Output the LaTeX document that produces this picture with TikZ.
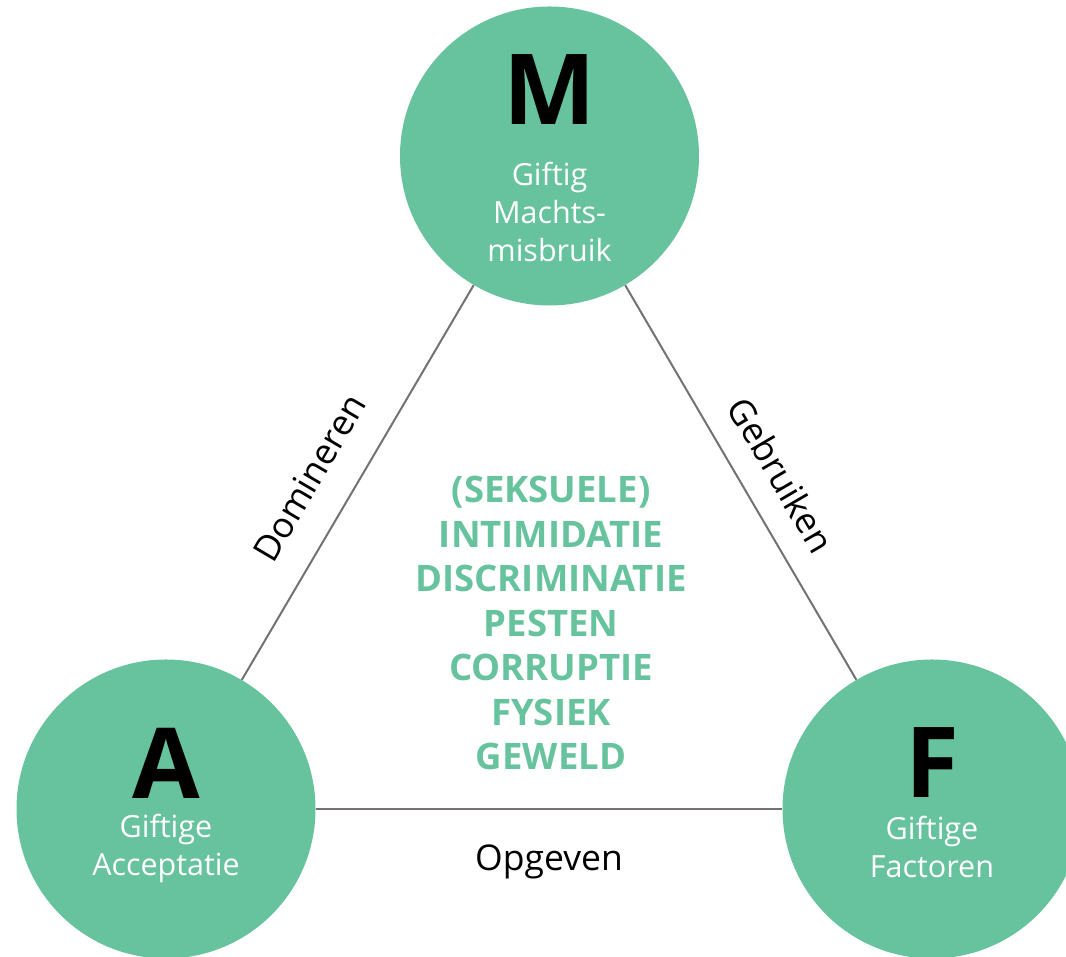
\documentclass[tikz,border=0pt]{standalone}
\usepackage{fontspec}
\setmainfont{Open Sans}
\usetikzlibrary{positioning}
\definecolor{toxgreen}{RGB}{102,195,157}
\definecolor{edgegray}{RGB}{118,113,113}

\begin{document}
\begin{tikzpicture}[
x=1pt, y=1pt,
link/.style={draw=edgegray, line width=2pt}
]

\tikzstyle{c} = [circle, fill=toxgreen, minimum size=299pt, inner sep=0pt]
\tikzstyle{big} = [font=\fontsize{98}{98}\selectfont\bfseries, inner sep=0pt]
\tikzstyle{sub} = [text=white, align=center, font=\fontsize{30.5}{38}\selectfont, inner sep=0pt]
\tikzstyle{lbl} = [font=\fontsize{35.5}{40}\selectfont, inner sep=0pt]
\tikzstyle{risk} = [text=toxgreen, align=center, font=\fontsize{36.5}{44.5}\selectfont\bfseries, inner sep=0pt]

\useasboundingbox (0,0) rectangle (1066,957);
\clip (0,0) rectangle (1066,957);

\node[c] (M) at (549.5,801) {};
\node[c] (A) at (166,148) {};
\node[c] (F) at (932,148) {};

% letters
\node[big] (lM) at ([yshift=66pt]M.center) {M};
\node[big] (lA) at ([yshift=46pt]A.center) {A};
\node[big] (lF) at ([yshift=46pt]F.center) {F};

% sub texts
\node[sub] (tM) at ([yshift=-56pt]M.center) {Giftig\\Machts-\\misbruik};
\node[sub] (tA) at ([yshift=-40pt]A.center) {Giftige\\Acceptatie};
\node[sub] (tF) at ([yshift=-38pt]F.center) {Giftige\\Factoren};

% sides
\draw[link] (A) -- node[lbl, sloped, pos=0.455, above=30pt] (dom) {Domineren} (M);
\draw[link] (M) -- node[lbl, sloped, pos=0.53, above=24pt] (geb) {Gebruiken} (F);
\draw[link] (A) -- node[lbl, below=35pt] (opg) {Opgeven} (F);

\node[risk] (risks) at (551,334) {(SEKSUELE)\\INTIMIDATIE\\DISCRIMINATIE\\PESTEN\\CORRUPTIE\\FYSIEK\\GEWELD};
\end{tikzpicture}
\end{document}
